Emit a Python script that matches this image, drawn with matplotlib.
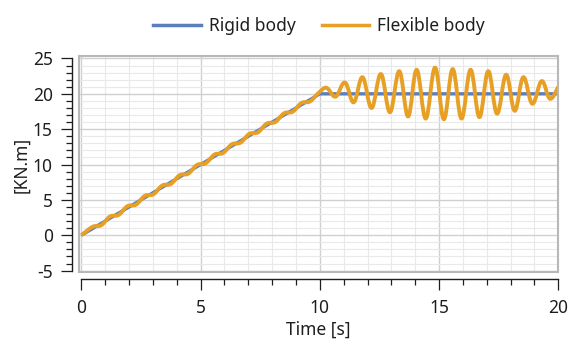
import matplotlib
matplotlib.use("Agg")
import matplotlib.pyplot as plt
from matplotlib.path import Path
from matplotlib.patches import PathPatch, Rectangle
from matplotlib.lines import Line2D
from matplotlib.ticker import MultipleLocator

plt.rcParams['font.family'] = ['Noto Sans', 'DejaVu Sans']
plt.rcParams['axes.unicode_minus'] = False

# Rigid body torque: ramp up to 20 KN.m at 10 s, then hold
rigid_t = [0.0, 10.0, 20.0]
rigid_v = [0.0, 20.0, 20.0]

# Flexible body torque: turning points of the response
flex_t = [0.00, 0.47, 0.83, 1.20, 1.56, 1.93, 2.29, 2.66, 3.02, 3.39,
          3.75, 4.12, 4.48, 4.85, 5.21, 5.58, 5.94, 6.31, 6.67, 7.04,
          7.40, 7.77, 8.13, 8.50, 8.86, 9.23, 9.59, 9.96,
          10.28, 10.66, 11.05, 11.42, 11.79, 12.17, 12.56, 12.94, 13.33, 13.70,
          14.06, 14.44, 14.83, 15.20, 15.57, 15.94, 16.32, 16.69, 17.06, 17.43,
          17.81, 18.17, 18.53, 18.91, 19.30, 19.65, 20.00]
flex_v = [0.00, 1.19, 1.41, 2.65, 2.87, 4.11, 4.33, 5.57, 5.79, 7.03,
          7.25, 8.49, 8.71, 9.95, 10.17, 11.41, 11.63, 12.87, 13.09, 14.33,
          14.55, 15.79, 16.01, 17.25, 17.47, 18.71, 18.93, 20.17,
          20.85, 19.60, 21.60, 18.80, 22.35, 18.00, 22.80, 17.40, 23.20, 16.80,
          23.40, 16.50, 23.70, 16.40, 23.50, 16.50, 23.40, 16.70, 23.20, 17.20,
          22.70, 17.60, 22.35, 18.60, 21.80, 19.30, 21.00]

x_ticks = [0, 5, 10, 15, 20]
y_ticks = [-5, 0, 5, 10, 15, 20, 25]

blue = '#5A7EBF'
orange = '#E79F24'
ink = '#1e1e1e'
fs = 12.5


def smooth_path(xs, ys, k=0.19):
    # Catmull-Rom style curve through the points, as cubic Bezier segments
    pts = list(zip(xs, ys))
    n = len(pts)
    verts = [pts[0]]
    codes = [Path.MOVETO]
    for i in range(n - 1):
        p0 = pts[max(i - 1, 0)]
        p1 = pts[i]
        p2 = pts[i + 1]
        p3 = pts[min(i + 2, n - 1)]
        c1 = (p1[0] + (p2[0] - p0[0]) * k, p1[1] + (p2[1] - p0[1]) * k)
        c2 = (p2[0] - (p3[0] - p1[0]) * k, p2[1] - (p3[1] - p1[1]) * k)
        verts += [c1, c2, p2]
        codes += [Path.CURVE4] * 3
    return Path(verts, codes)


fig = plt.figure(figsize=(5.71, 3.5), dpi=100)
ax = fig.add_axes([0.1384, 0.2229, 0.8394, 0.6171])

ax.set_xlim(-0.1, 20.0)
ax.set_ylim(-5.2, 25.35)

ax.xaxis.set_minor_locator(MultipleLocator(1))
ax.yaxis.set_minor_locator(MultipleLocator(1))
ax.set_xticks(x_ticks)
ax.set_yticks(y_ticks)

ax.grid(which='major', color='#d0d0d0', lw=1.0)
ax.grid(which='minor', color='#e9e9e9', lw=0.8)
ax.set_axisbelow(True)

# detached tick axes below and left of the frame
for s in ['top', 'right']:
    ax.spines[s].set_visible(False)
ax.spines['bottom'].set_position(('outward', 5))
ax.spines['left'].set_position(('outward', 5))
ax.spines['bottom'].set_bounds(0, 20)
ax.spines['left'].set_bounds(-5, 25)
for s in ['bottom', 'left']:
    ax.spines[s].set_color(ink)
    ax.spines[s].set_linewidth(1.0)

ax.tick_params(which='major', direction='out', length=8, width=0.9,
               color=ink, labelsize=fs, labelcolor=ink)
ax.tick_params(which='minor', direction='out', length=4.5, width=0.9,
               color=ink)
ax.tick_params(axis='x', which='major', pad=6.5)
ax.tick_params(axis='y', which='major', pad=6)
# inner major ticks on the time axis are grey
for tk in ax.xaxis.get_major_ticks()[1:-1]:
    tk.tick1line.set_color('#8a8a8a')

# plot frame
ax.add_patch(Rectangle((0, 0), 1, 1, transform=ax.transAxes, fill=False,
                       edgecolor='#b8b8b8', lw=1.5, clip_on=False, zorder=5))

ax.plot(rigid_t, rigid_v, color=blue, lw=2.4, zorder=3, solid_capstyle='butt')
ax.add_patch(PathPatch(smooth_path(flex_t, flex_v), fill=False,
                       edgecolor=orange, lw=2.8, zorder=4,
                       capstyle='butt', joinstyle='round'))

ax.set_xlabel('Time [s]', fontsize=fs, color=ink)
ax.xaxis.set_label_coords(0.5, -0.225)
ax.set_ylabel('[KN.m]', fontsize=fs, color=ink)
ax.yaxis.set_label_coords(-0.102, 0.495)

handles = [Line2D([], [], color=blue, lw=2.5),
           Line2D([], [], color=orange, lw=2.5)]
fig.legend(handles, ['Rigid body', 'Flexible body'], loc='center',
           bbox_to_anchor=(319 / 571, 1 - 26 / 350), ncol=2, frameon=False,
           fontsize=fs, handlelength=2.75, handletextpad=0.45,
           columnspacing=1.5, labelcolor=ink)

fig.savefig('out.png', dpi=100)
